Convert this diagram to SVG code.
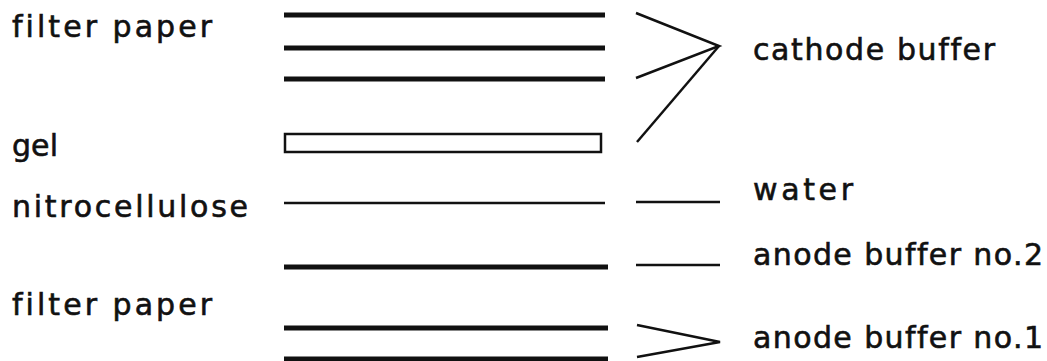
<svg xmlns="http://www.w3.org/2000/svg" width="1047" height="361" viewBox="0 0 1047 361">
<style>
text{font-family:"DejaVu Sans",sans-serif;font-size:30px;fill:#111;stroke:#111;stroke-width:0.6;font-variant-ligatures:none}
.thick{stroke:#111;stroke-width:5;fill:none}
.thin{stroke:#111;stroke-width:2.5;fill:none}
</style>
<rect width="1047" height="361" fill="#fff"/>
<g id="labels-left">
<text x="12" y="37" textLength="200" lengthAdjust="spacing">filter paper</text>
<text x="12" y="156" textLength="46" lengthAdjust="spacing">gel</text>
<text x="12" y="217" textLength="236" lengthAdjust="spacing">nitrocellulose</text>
<text x="12" y="315" textLength="200" lengthAdjust="spacing">filter paper</text>
</g>
<g id="layers">
<line class="thick" x1="284" y1="15" x2="605" y2="15"/>
<line class="thick" x1="284" y1="48" x2="605" y2="48"/>
<line class="thick" x1="284" y1="79" x2="605" y2="79"/>
<rect class="thin" x="285" y="134" width="316" height="18"/>
<line class="thin" x1="284" y1="203" x2="605" y2="203"/>
<line class="thick" x1="284" y1="267" x2="608" y2="267"/>
<line class="thick" x1="284" y1="328" x2="608" y2="328"/>
<line class="thick" x1="284" y1="359" x2="608" y2="359"/>
</g>
<g id="connectors">
<polyline class="thin" points="636,13 719,46 636,78"/>
<line class="thin" x1="719" y1="46" x2="637" y2="142"/>
<line class="thin" x1="636" y1="202" x2="720" y2="202"/>
<line class="thin" x1="636" y1="265" x2="720" y2="265"/>
<polyline class="thin" points="637,325 720,342 637,357"/>
</g>
<g id="labels-right">
<text x="753" y="60" textLength="242" lengthAdjust="spacing">cathode buffer</text>
<text x="753" y="200" textLength="100" lengthAdjust="spacing">water</text>
<text x="753" y="265" textLength="290" lengthAdjust="spacing">anode buffer no.2</text>
<text x="753" y="348" textLength="290" lengthAdjust="spacing">anode buffer no.1</text>
</g>
</svg>
